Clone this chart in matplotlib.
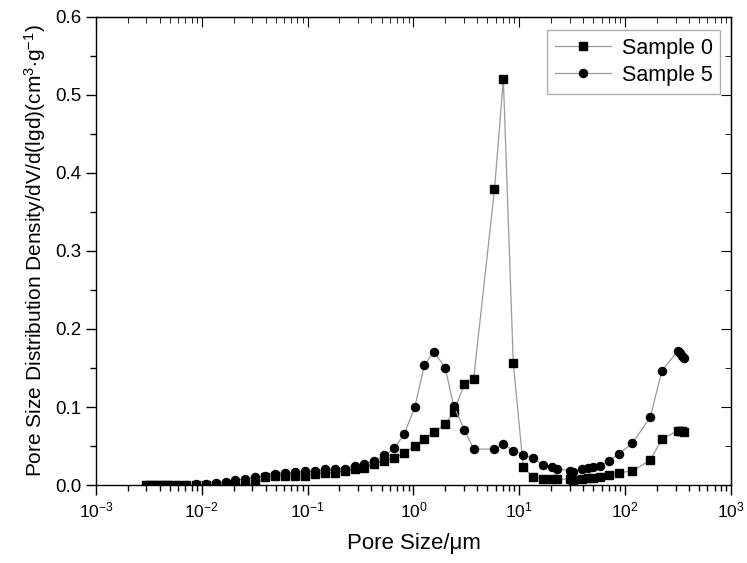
import matplotlib
matplotlib.use("Agg")
import matplotlib.pyplot as plt
from matplotlib.ticker import MultipleLocator, LogLocator, NullFormatter, FixedLocator

plt.rcParams["font.family"] = ["Liberation Sans", "DejaVu Sans"]
plt.rcParams["mathtext.fontset"] = "custom"
plt.rcParams["mathtext.rm"] = "Liberation Sans"
plt.rcParams["mathtext.it"] = "Liberation Sans:italic"
plt.rcParams["mathtext.bf"] = "Liberation Sans:bold"

# ── data (pore size in um, density in cm3/g) ─────────────────────────────────
pore_size = [0.00299, 0.00333, 0.00371, 0.00413, 0.00461, 0.00512, 0.00591,
             0.00708, 0.00879, 0.0109, 0.0135, 0.0168, 0.0208, 0.0258, 0.0321,
             0.0398, 0.0494, 0.0613, 0.0760, 0.0944, 0.117, 0.145, 0.180,
             0.224, 0.278, 0.344, 0.427, 0.530, 0.658, 0.816, 1.03, 1.27,
             1.56, 2.00, 2.40, 3.03, 3.70, 5.83, 7.07, 8.77, 10.9, 13.5,
             16.8, 20.3, 22.9, 29.9, 32.2, 38.9, 44.2, 50.1, 57.7, 70.5,
             87.5, 117, 173, 223, 315, 331, 348, 364]

sample0 = [0.0, 0.0, 0.0, 0.0, 0.0, 0.0, 0.0, 0.0, 0.0, 0.0, 0.0, 0.0, 0.0,
           0.0, 0.002, 0.010, 0.012, 0.011, 0.012, 0.0115, 0.014, 0.0158,
           0.0158, 0.018, 0.020, 0.0215, 0.027, 0.031, 0.035, 0.041, 0.050,
           0.059, 0.068, 0.078, 0.094, 0.129, 0.1355, 0.379, 0.520, 0.157,
           0.023, 0.010, 0.0083, 0.0073, 0.0073, 0.0077, 0.0064, 0.0073,
           0.0096, 0.0096, 0.010, 0.0128, 0.0158, 0.018, 0.032, 0.059,
           0.0696, 0.0696, 0.069, 0.068]

sample5 = [0.0, 0.0, 0.0, 0.0, 0.0, 0.0, 0.0005, 0.0005, 0.001, 0.0015, 0.003,
           0.0045, 0.0065, 0.008, 0.010, 0.012, 0.0145, 0.015, 0.0165, 0.018,
           0.018, 0.020, 0.0205, 0.021, 0.024, 0.027, 0.031, 0.038, 0.047,
           0.065, 0.100, 0.154, 0.171, 0.150, 0.101, 0.071, 0.046, 0.046,
           0.053, 0.044, 0.039, 0.034, 0.026, 0.0225, 0.0205, 0.0185, 0.0165,
           0.020, 0.022, 0.0235, 0.0245, 0.031, 0.040, 0.0535, 0.087, 0.1465,
           0.172, 0.169, 0.1655, 0.1625]

series_names = ["Sample 0", "Sample 5"]
x_major = [1e-3, 1e-2, 1e-1, 1e0, 1e1, 1e2, 1e3]

# ── plot ─────────────────────────────────────────────────────────────────────
fig = plt.figure(figsize=(7.47, 5.63), dpi=100)
ax = fig.add_axes([0.1285, 0.1385, 0.8500, 0.8315])

ax.plot(pore_size, sample0, color="#9a9a9a", lw=0.9, marker="s", ms=5.2,
        mfc="black", mec="black", label=series_names[0], zorder=3)
ax.plot(pore_size, sample5, color="#9a9a9a", lw=0.9, marker="o", ms=5.8,
        mfc="black", mec="black", label=series_names[1], zorder=3)

ax.set_xscale("log")
ax.set_xlim(1e-3, 1e3)
ax.set_ylim(0, 0.6)

ax.yaxis.set_major_locator(MultipleLocator(0.1))
ax.yaxis.set_minor_locator(MultipleLocator(0.05))
ax.yaxis.set_major_formatter(plt.FormatStrFormatter("%.1f"))
ax.xaxis.set_major_locator(FixedLocator(x_major))
ax.xaxis.set_minor_locator(LogLocator(base=10, subs=range(2, 10), numticks=20))
ax.xaxis.set_minor_formatter(NullFormatter())

ax.tick_params(which="major", direction="out", length=7, width=1,
               labelsize=13.5, colors="black")
ax.tick_params(which="minor", direction="out", length=4, width=1)
ax.tick_params(axis="x", labelsize=12.5, pad=4)

for sp in ax.spines.values():
    sp.set_linewidth(1.0)

# mirrored axes on top and right with inward ticks
top = ax.secondary_xaxis("top")
top.set_xscale("log")
top.xaxis.set_major_locator(FixedLocator(x_major))
top.xaxis.set_minor_locator(LogLocator(base=10, subs=range(2, 10), numticks=20))
top.tick_params(which="major", direction="in", length=7, labeltop=False)
top.tick_params(which="minor", direction="in", length=4)
top.xaxis.set_major_formatter(NullFormatter())
top.xaxis.set_minor_formatter(NullFormatter())

right = ax.secondary_yaxis("right")
right.yaxis.set_major_locator(MultipleLocator(0.1))
right.yaxis.set_minor_locator(MultipleLocator(0.05))
right.tick_params(which="major", direction="in", length=7, labelright=False)
right.tick_params(which="minor", direction="in", length=4)
right.yaxis.set_major_formatter(NullFormatter())

ax.set_xlabel("Pore Size/\u03bcm", fontsize=16, labelpad=9)
ax.set_ylabel(r"Pore Size Distribution Density/dV/d(lgd)(cm$^{3}$$\cdot$g$^{-1}$)",
              fontsize=15, labelpad=5)

leg = ax.legend(loc="upper right", fontsize=15.5, frameon=True, fancybox=False,
                edgecolor="#9a9a9a", handlelength=2.6, borderpad=0.35,
                labelspacing=0.3, handletextpad=0.5, borderaxespad=0,
                bbox_to_anchor=(0.983, 0.972))
leg.get_frame().set_linewidth(1.0)

fig.savefig("out.png", dpi=100)
